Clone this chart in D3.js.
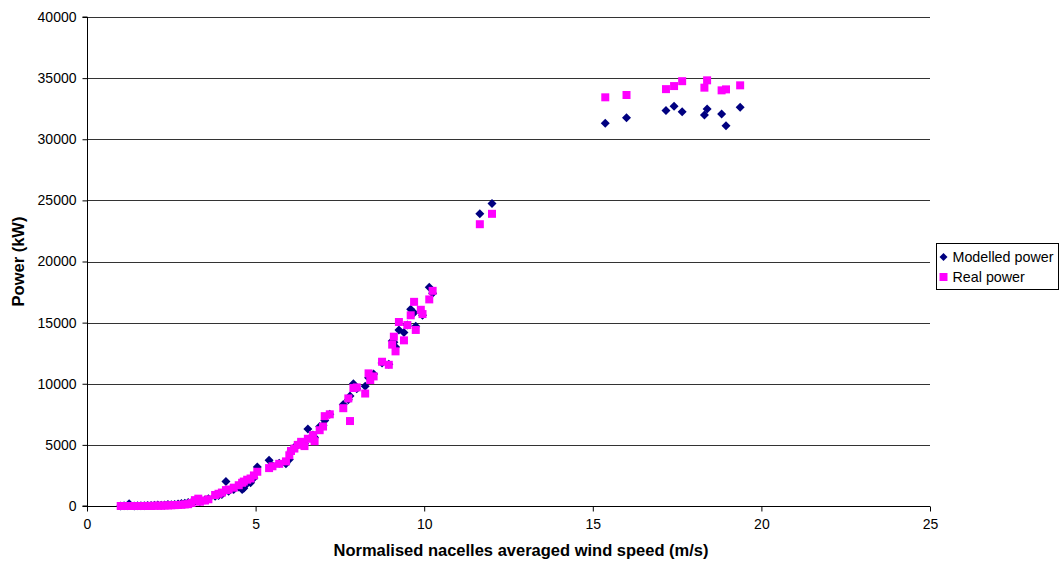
<!DOCTYPE html>
<html>
<head>
<meta charset="utf-8">
<script src="https://cdn.jsdelivr.net/npm/d3@7"></script>
<style>
  body { margin: 0; background: #fff; }
  svg { display: block; font-family: "Liberation Sans", Arial, sans-serif; }
</style>
</head>
<body>
<div id="chart"></div>
<script>
// wind speed (m/s) shared by both series
const windSpeed = [
  1.0, 1.1, 1.2, 1.25, 1.4, 1.5, 1.6, 1.7, 1.8, 1.9,
  2.0, 2.1, 2.2, 2.3, 2.4, 2.5, 2.6, 2.7, 2.8, 2.9,
  3.0, 3.1, 3.2, 3.3, 3.35, 3.5, 3.6, 3.8, 3.9, 4.0,
  4.12, 4.2, 4.35, 4.5, 4.6, 4.65, 4.75, 4.85, 4.95, 5.05,
  5.4, 5.5, 5.7, 5.9, 6.0, 6.05, 6.15, 6.25, 6.35, 6.45,
  6.55, 6.7, 6.75, 6.9, 7.0, 7.05, 7.2, 7.6, 7.75, 7.8,
  7.9, 8.0, 8.25, 8.35, 8.4, 8.5, 8.75, 8.95, 9.05, 9.1,
  9.15, 9.25, 9.4, 9.5, 9.6, 9.7, 9.75, 9.9, 9.95, 10.15,
  10.25, 11.65, 12.01, 15.37, 16.0, 17.17, 17.41, 17.65, 18.31, 18.39,
  18.82, 18.95, 19.37
];
const modelledPower = [
  0, 20, 30, 180, 10, 20, 30, 20, 50, 40,
  60, 80, 70, 90, 120, 110, 130, 170, 200, 220,
  280, 300, 380, 420, 360, 500, 600, 800, 850, 950,
  2000, 1200, 1350, 1550, 1350, 1450, 1850, 1900, 2300, 3200,
  3750, 3300, 3500, 3450, 3800, 4500, 4800, 5000, 5200, 5100,
  6300, 5800, 5600, 6500, 6600, 7000, 7500, 8300, 8700, 9000,
  10000, 9600, 9800, 10500, 10700, 10800, 11700, 11600, 13500, 13400,
  13000, 14400, 14200, 14800, 16100, 15800, 14700, 15900, 15600, 17900,
  17400, 23900, 24750, 31300, 31750, 32350, 32700, 32250, 31980, 32470,
  32070, 31100, 32620
];
const realPower = [
  0, 0, 0, 0, 0, 0, 0, 0, 10, 0,
  20, 30, 20, 40, 50, 60, 70, 80, 100, 130,
  150, 250, 480, 600, 350, 450, 550, 900, 1000, 1100,
  1300, 1350, 1500, 1700, 1900, 2000, 2150, 2250, 2500, 2800,
  3100, 3250, 3450, 3650, 4150, 4500, 4700, 5000, 5250, 4900,
  5500, 5800, 5300, 6200, 6500, 7350, 7500, 8000, 8800, 6950,
  9650, 9700, 9200, 10850, 10300, 10600, 11800, 11550, 13200, 13850,
  12650, 15050, 13550, 14800, 15600, 16700, 14400, 16050, 15700, 16900,
  17600, 23050, 23900, 33430, 33620, 34100, 34350, 34750, 34220, 34820,
  34000, 34080, 34410
];
const xTicks = [0, 5, 10, 15, 20, 25];
const yTicks = [0, 5000, 10000, 15000, 20000, 25000, 30000, 35000, 40000];
const seriesNames = ['Modelled power', 'Real power'];
const seriesColors = ['#000080', '#FF00FF'];

const width = 1061, height = 562;
const plot = { left: 87, right: 930, top: 17, bottom: 506 };

const svg = d3.select('#chart').append('svg')
  .attr('width', width)
  .attr('height', height);

const x = d3.scaleLinear().domain([0, 25]).range([plot.left, plot.right]);
const y = d3.scaleLinear().domain([0, 40000]).range([plot.bottom, plot.top]);

// gridlines
svg.append('g')
  .selectAll('line')
  .data(yTicks.filter(d => d > 0))
  .join('line')
  .attr('x1', plot.left).attr('x2', plot.right)
  .attr('y1', d => Math.round(y(d)) + 0.5)
  .attr('y2', d => Math.round(y(d)) + 0.5)
  .attr('stroke', '#333')
  .attr('stroke-width', 1);

// axes
const yAxis = svg.append('g')
  .attr('transform', 'translate(' + (plot.left + 0.5) + ',0)')
  .call(d3.axisLeft(y).tickValues(yTicks).tickSize(5).tickPadding(6).tickFormat(d3.format('d')));
const xAxis = svg.append('g')
  .attr('transform', 'translate(0,' + (plot.bottom + 0.5) + ')')
  .call(d3.axisBottom(x).tickValues(xTicks).tickSize(5).tickPadding(8).tickFormat(d3.format('d')));

[xAxis, yAxis].forEach(g => {
  g.select('.domain').attr('stroke', '#000');
  g.selectAll('.tick line').attr('stroke', '#000');
  g.selectAll('.tick text')
    .attr('fill', '#000')
    .style('font-size', '14px')
    .style('font-family', '"Liberation Sans", Arial, sans-serif');
});
yAxis.select('.domain').attr('d', 'M-5,' + y(40000) + 'H0V' + y(0) + 'H-5');
xAxis.select('.domain').attr('d', 'M' + x(0) + ',0H' + x(25));

// markers
const diamond = 'M0,-4.5L4.5,0L0,4.5L-4.5,0Z';
const square = 'M-4,-4H4V4H-4Z';
const points = windSpeed.map((v, i) => ({ v, m: modelledPower[i], r: realPower[i] }));

svg.append('g')
  .selectAll('path')
  .data(points)
  .join('path')
  .attr('d', diamond)
  .attr('fill', seriesColors[0])
  .attr('transform', d => 'translate(' + x(d.v) + ',' + y(d.m) + ')');

svg.append('g')
  .selectAll('path')
  .data(points)
  .join('path')
  .attr('d', square)
  .attr('fill', seriesColors[1])
  .attr('transform', d => 'translate(' + x(d.v) + ',' + y(d.r) + ')');

// axis titles
svg.append('text')
  .attr('x', 521)
  .attr('y', 556)
  .attr('text-anchor', 'middle')
  .style('font-size', '16.5px')
  .style('font-weight', 'bold')
  .text('Normalised nacelles averaged wind speed (m/s)');

svg.append('text')
  .attr('transform', 'translate(24,' + ((plot.top + plot.bottom) / 2) + ') rotate(-90)')
  .attr('text-anchor', 'middle')
  .style('font-size', '16.5px')
  .style('font-weight', 'bold')
  .text('Power (kW)');

// legend
const legend = svg.append('g').attr('transform', 'translate(936.5,243.5)');
legend.append('rect')
  .attr('width', 122).attr('height', 46)
  .attr('fill', '#fff').attr('stroke', '#000');
const item = legend.selectAll('g.item')
  .data(seriesNames)
  .join('g')
  .attr('class', 'item')
  .attr('transform', (d, i) => 'translate(7,' + (13.5 + i * 20) + ')');
item.append('path')
  .attr('d', (d, i) => i === 0 ? 'M0,-4L4,0L0,4L-4,0Z' : 'M-4,-4H4V4H-4Z')
  .attr('fill', (d, i) => seriesColors[i]);
item.append('text')
  .attr('x', 9)
  .attr('y', 5)
  .style('font-size', '14.3px')
  .text(d => d);
</script>
</body>
</html>
